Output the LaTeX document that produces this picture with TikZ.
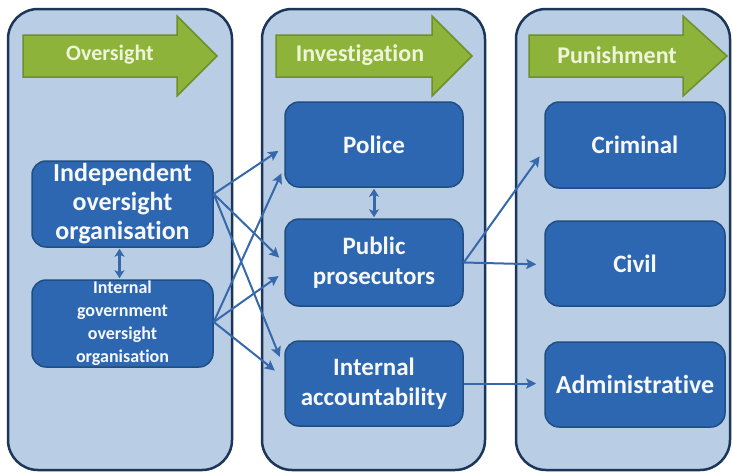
\documentclass[tikz,border=0pt]{standalone}
\usepackage{fontspec}
\setmainfont{Carlito}[Ligatures={NoCommon}]
\usetikzlibrary{arrows.meta,calc}
\definecolor{panelfill}{HTML}{B9CDE5}
\definecolor{paneldraw}{HTML}{1C365A}
\definecolor{boxfill}{HTML}{2E67B1}
\definecolor{boxdraw}{HTML}{1F4E82}
\definecolor{boxtext}{HTML}{F6F8FA}
\definecolor{greenfill}{HTML}{8DB33A}
\definecolor{greendraw}{HTML}{6E8F2A}
\definecolor{greentext}{HTML}{EEF5DA}
\definecolor{conncol}{HTML}{3868AC}
\begin{document}
\begin{tikzpicture}[x=1pt,y=-1pt,
  panel/.style={draw=paneldraw, line width=2.5pt, fill=panelfill, rounded corners=30pt, inner sep=0pt},
  bluebox/.style={draw=boxdraw, line width=1.5pt, fill=boxfill, rounded corners=14pt, inner sep=0pt,
     text=boxtext, align=center, font=\fontsize{25}{30}\selectfont\bfseries},
  smallbox/.style={bluebox, font=\fontsize{18}{23}\selectfont\bfseries},
  greenarrow/.style={draw=greendraw, line width=1.5pt, fill=greenfill},
  arrowlabel/.style={text=greentext, inner sep=0pt},
  conn/.style={draw=conncol, line width=2pt, -{Stealth[length=10pt,width=10pt,inset=2pt]}},
  dbl/.style={draw=conncol, line width=3pt, {Stealth[length=8pt,width=10pt,inset=2pt]}-{Stealth[length=8pt,width=10pt,inset=2pt]}, shorten <=1pt, shorten >=1pt}
]
\useasboundingbox (0,0) rectangle (732,475);
\fill[white] (0,0) rectangle (732,475);

% panels
\node[panel, minimum width=224pt, minimum height=461pt] (p1) at (120,239.5) {};
\node[panel, minimum width=223pt, minimum height=461pt] (p2) at (373.5,239.5) {};
\node[panel, minimum width=214pt, minimum height=461pt] (p3) at (623,239.5) {};

% green arrows
\path[greenarrow] (23,35) -- (177,35) -- (177,16) -- (217,56) -- (177,96) -- (177,77) -- (23,77) -- cycle;
\node[arrowlabel, font=\fontsize{22}{26}\selectfont\bfseries] (l1) at (110,55) {Oversight};
\path[greenarrow] (276,35) -- (432,35) -- (432,16) -- (472,56) -- (432,96) -- (432,77) -- (276,77) -- cycle;
\node[arrowlabel, font=\fontsize{24}{28}\selectfont\bfseries] (l2) at (360,55) {Investigation};
\path[greenarrow] (529,35) -- (683,35) -- (683,16) -- (727,56) -- (683,96) -- (683,77) -- (529,77) -- cycle;
\node[arrowlabel, font=\fontsize{24}{28}\selectfont\bfseries] (l3) at (617,55) {Punishment};

% boxes
\node[bluebox, minimum width=181pt, minimum height=86pt, font=\fontsize{26}{29}\selectfont\bfseries] (ind) at (122.5,204) {Independent\\oversight\\organisation};
\node[smallbox, minimum width=181pt, minimum height=87pt] (igo) at (122.5,323.5) {Internal\\government\\oversight\\organisation};
\node[bluebox, minimum width=178pt, minimum height=85pt] (pol) at (374,144.5) {Police};
\node[bluebox, minimum width=178pt, minimum height=87pt] (pp) at (374,262.5) {Public\\prosecutors};
\node[bluebox, minimum width=178pt, minimum height=85pt] (ia) at (374,383.5) {Internal\\accountability};
\node[bluebox, minimum width=180pt, minimum height=86pt] (cri) at (635,145) {Criminal};
\node[bluebox, minimum width=180pt, minimum height=85pt] (civ) at (635,263.5) {Civil};
\node[bluebox, minimum width=180pt, minimum height=85pt, font=\fontsize{26}{30}\selectfont\bfseries] (adm) at (635,384.5) {Administrative};

% double arrows
\draw[dbl] ([xshift=-3pt]ind.south) -- ([xshift=-3pt]igo.north);
\draw[dbl] (pol) -- (pp);

% connectors from oversight
\draw[conn, shorten >=7pt] ([yshift=10pt]ind.east) -- ([yshift=-2.5pt]pol.west);
\draw[conn, shorten >=7pt] ([yshift=10pt]ind.east) -- ([yshift=0pt]pp.west);
\draw[conn, shorten >=12pt] ([yshift=10pt]ind.east) -- ([yshift=15.5pt]ia.west);
\draw[conn, shorten >=7pt] ([yshift=1.5pt]igo.east) -- ([yshift=-22.5pt]pol.west);
\draw[conn, shorten >=7pt] ([yshift=1.5pt]igo.east) -- ([yshift=-9.5pt]pp.west);
\draw[conn, shorten >=12pt] ([yshift=1.5pt]igo.east) -- ([yshift=5.5pt]ia.west);

% connectors to punishment
\draw[conn, shorten >=8pt] (pp.east) -- ([yshift=-5pt]cri.west);
\draw[conn, shorten >=8pt] (pp.east) -- ([yshift=-1pt]civ.west);
\draw[conn, shorten >=8pt] (ia.east) -- ([yshift=1pt]adm.west);
\end{tikzpicture}
\end{document}
